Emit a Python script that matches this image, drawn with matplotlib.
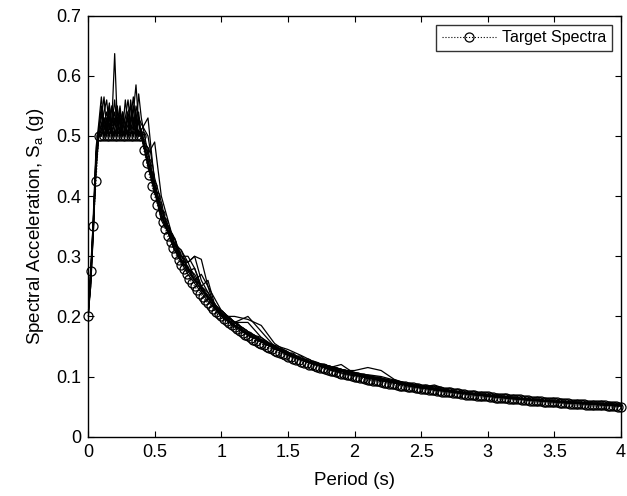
import matplotlib
matplotlib.use("Agg")
import matplotlib.pyplot as plt

plt.rcParams['font.family'] = ['Liberation Sans', 'DejaVu Sans']
plt.rcParams['mathtext.fontset'] = 'custom'
plt.rcParams['mathtext.rm'] = 'Liberation Sans'

# target spectrum (period in s, Sa in g)
periodo = [
    0.00, 0.02, 0.04, 0.06, 0.08, 0.10, 0.12, 0.14, 0.16, 0.18,
    0.20, 0.22, 0.24, 0.26, 0.28, 0.30, 0.32, 0.34, 0.36, 0.38,
    0.40, 0.42, 0.44, 0.46, 0.48, 0.50, 0.52, 0.54, 0.56, 0.58,
    0.60, 0.62, 0.64, 0.66, 0.68, 0.70, 0.72, 0.74, 0.76, 0.78,
    0.80, 0.82, 0.84, 0.86, 0.88, 0.90, 0.92, 0.94, 0.96, 0.98,
    1.00, 1.02, 1.04, 1.06, 1.08, 1.10, 1.12, 1.14, 1.16, 1.18,
    1.20, 1.22, 1.24, 1.26, 1.28, 1.30, 1.32, 1.34, 1.36, 1.38,
    1.40, 1.42, 1.44, 1.46, 1.48, 1.50, 1.52, 1.54, 1.56, 1.58,
    1.60, 1.62, 1.64, 1.66, 1.68, 1.70, 1.72, 1.74, 1.76, 1.78,
    1.80, 1.82, 1.84, 1.86, 1.88, 1.90, 1.92, 1.94, 1.96, 1.98,
    2.00, 2.02, 2.04, 2.06, 2.08, 2.10, 2.12, 2.14, 2.16, 2.18,
    2.20, 2.22, 2.24, 2.26, 2.28, 2.30, 2.32, 2.34, 2.36, 2.38,
    2.40, 2.42, 2.44, 2.46, 2.48, 2.50, 2.52, 2.54, 2.56, 2.58,
    2.60, 2.62, 2.64, 2.66, 2.68, 2.70, 2.72, 2.74, 2.76, 2.78,
    2.80, 2.82, 2.84, 2.86, 2.88, 2.90, 2.92, 2.94, 2.96, 2.98,
    3.00, 3.02, 3.04, 3.06, 3.08, 3.10, 3.12, 3.14, 3.16, 3.18,
    3.20, 3.22, 3.24, 3.26, 3.28, 3.30, 3.32, 3.34, 3.36, 3.38,
    3.40, 3.42, 3.44, 3.46, 3.48, 3.50, 3.52, 3.54, 3.56, 3.58,
    3.60, 3.62, 3.64, 3.66, 3.68, 3.70, 3.72, 3.74, 3.76, 3.78,
    3.80, 3.82, 3.84, 3.86, 3.88, 3.90, 3.92, 3.94, 3.96, 3.98,
    4.00]
sa_target = [
    0.200, 0.275, 0.350, 0.425, 0.500, 0.500, 0.500, 0.500, 0.500, 0.500,
    0.500, 0.500, 0.500, 0.500, 0.500, 0.500, 0.500, 0.500, 0.500, 0.500,
    0.500, 0.476, 0.455, 0.435, 0.417, 0.400, 0.385, 0.370, 0.357, 0.345,
    0.333, 0.323, 0.313, 0.303, 0.294, 0.286, 0.278, 0.270, 0.263, 0.256,
    0.250, 0.244, 0.238, 0.233, 0.227, 0.222, 0.217, 0.213, 0.208, 0.204,
    0.200, 0.196, 0.192, 0.189, 0.185, 0.182, 0.179, 0.175, 0.172, 0.169,
    0.167, 0.164, 0.161, 0.159, 0.156, 0.154, 0.152, 0.149, 0.147, 0.145,
    0.143, 0.141, 0.139, 0.137, 0.135, 0.133, 0.132, 0.130, 0.128, 0.127,
    0.125, 0.123, 0.122, 0.120, 0.119, 0.118, 0.116, 0.115, 0.114, 0.112,
    0.111, 0.110, 0.109, 0.108, 0.106, 0.105, 0.104, 0.103, 0.102, 0.101,
    0.100, 0.099, 0.098, 0.097, 0.096, 0.095, 0.094, 0.093, 0.093, 0.092,
    0.091, 0.090, 0.089, 0.088, 0.088, 0.087, 0.086, 0.085, 0.085, 0.084,
    0.083, 0.083, 0.082, 0.081, 0.081, 0.080, 0.079, 0.079, 0.078, 0.078,
    0.077, 0.076, 0.076, 0.075, 0.075, 0.074, 0.074, 0.073, 0.072, 0.072,
    0.071, 0.071, 0.070, 0.070, 0.069, 0.069, 0.068, 0.068, 0.068, 0.067,
    0.067, 0.066, 0.066, 0.065, 0.065, 0.065, 0.064, 0.064, 0.063, 0.063,
    0.063, 0.062, 0.062, 0.061, 0.061, 0.061, 0.060, 0.060, 0.060, 0.059,
    0.059, 0.058, 0.058, 0.058, 0.057, 0.057, 0.057, 0.056, 0.056, 0.056,
    0.056, 0.055, 0.055, 0.055, 0.054, 0.054, 0.054, 0.053, 0.053, 0.053,
    0.053, 0.052, 0.052, 0.052, 0.052, 0.051, 0.051, 0.051, 0.051, 0.050,
    0.050]

# matched ground motion spectra (common period grid)
periodo_reg = [0.00, 0.02, 0.04, 0.06, 0.08,
               0.10, 0.12, 0.14, 0.16, 0.18, 0.20, 0.22, 0.24, 0.26, 0.28,
               0.30, 0.32, 0.34, 0.36, 0.38, 0.40,
               0.45, 0.50, 0.55, 0.60, 0.65, 0.70, 0.75, 0.80, 0.85, 0.90,
               0.95, 1.00,
               1.1, 1.2, 1.3, 1.4, 1.5, 1.6, 1.7, 1.8, 1.9, 2.0, 2.1, 2.2,
               2.3, 2.4, 2.5, 2.6, 2.7, 2.8, 2.9, 3.0, 3.2, 3.4, 3.6, 3.8, 4.0]
reg1 = [0.20, 0.26, 0.37, 0.48, 0.52,
        0.565, 0.52, 0.54, 0.51, 0.53, 0.637, 0.52, 0.55, 0.51, 0.53, 0.56, 0.52, 0.54, 0.585, 0.52, 0.51,
        0.53, 0.42, 0.38, 0.35, 0.33, 0.30, 0.28, 0.27, 0.25, 0.235, 0.22, 0.205,
        0.185, 0.17, 0.158, 0.146, 0.137, 0.128, 0.12, 0.113, 0.108, 0.102, 0.097, 0.093, 0.089,
        0.085, 0.082, 0.078, 0.075, 0.072, 0.07, 0.068, 0.064, 0.06, 0.057, 0.055, 0.052]
reg2 = [0.21, 0.27, 0.35, 0.46, 0.51,
        0.53, 0.565, 0.51, 0.55, 0.52, 0.54, 0.50, 0.53, 0.51, 0.56, 0.52, 0.55, 0.53, 0.51, 0.57, 0.53,
        0.47, 0.49, 0.40, 0.36, 0.32, 0.31, 0.29, 0.30, 0.26, 0.24, 0.22, 0.21,
        0.19, 0.175, 0.16, 0.15, 0.14, 0.13, 0.122, 0.115, 0.11, 0.106, 0.10, 0.095, 0.09,
        0.086, 0.083, 0.08, 0.076, 0.073, 0.071, 0.069, 0.065, 0.061, 0.058, 0.056, 0.054]
reg3 = [0.20, 0.25, 0.34, 0.47, 0.50,
        0.52, 0.54, 0.56, 0.51, 0.55, 0.52, 0.51, 0.53, 0.50, 0.52, 0.54, 0.55, 0.51, 0.53, 0.52, 0.50,
        0.46, 0.41, 0.375, 0.35, 0.32, 0.30, 0.29, 0.30, 0.295, 0.25, 0.23, 0.21,
        0.19, 0.20, 0.175, 0.15, 0.14, 0.13, 0.122, 0.118, 0.112, 0.107, 0.102, 0.097, 0.092,
        0.087, 0.083, 0.081, 0.077, 0.074, 0.072, 0.07, 0.065, 0.061, 0.058, 0.055, 0.053]
reg4 = [0.22, 0.28, 0.36, 0.45, 0.50,
        0.51, 0.53, 0.50, 0.545, 0.51, 0.52, 0.55, 0.50, 0.53, 0.52, 0.50, 0.53, 0.565, 0.52, 0.50, 0.51,
        0.45, 0.41, 0.37, 0.34, 0.33, 0.29, 0.28, 0.26, 0.27, 0.25, 0.215, 0.20,
        0.20, 0.195, 0.185, 0.155, 0.14, 0.13, 0.12, 0.115, 0.11, 0.11, 0.115, 0.11, 0.095,
        0.088, 0.084, 0.08, 0.076, 0.074, 0.071, 0.069, 0.064, 0.06, 0.057, 0.055, 0.052]
reg5 = [0.20, 0.27, 0.35, 0.44, 0.50,
        0.50, 0.51, 0.53, 0.52, 0.50, 0.51, 0.54, 0.52, 0.50, 0.51, 0.53, 0.50, 0.52, 0.50, 0.51, 0.50,
        0.45, 0.405, 0.37, 0.34, 0.31, 0.29, 0.27, 0.255, 0.24, 0.225, 0.213, 0.202,
        0.184, 0.168, 0.158, 0.148, 0.135, 0.127, 0.121, 0.116, 0.111, 0.104, 0.098, 0.094, 0.09,
        0.085, 0.081, 0.079, 0.075, 0.072, 0.07, 0.068, 0.063, 0.059, 0.057, 0.054, 0.051]
reg6 = [0.19, 0.26, 0.36, 0.47, 0.51,
        0.54, 0.50, 0.52, 0.555, 0.50, 0.53, 0.52, 0.545, 0.50, 0.51, 0.54, 0.51, 0.50, 0.55, 0.53, 0.52,
        0.50, 0.43, 0.39, 0.34, 0.32, 0.31, 0.28, 0.26, 0.245, 0.23, 0.215, 0.205,
        0.19, 0.17, 0.16, 0.152, 0.145, 0.135, 0.124, 0.118, 0.112, 0.106, 0.099, 0.096, 0.092,
        0.087, 0.082, 0.086, 0.078, 0.073, 0.071, 0.068, 0.064, 0.06, 0.058, 0.055, 0.053]
reg7 = [0.21, 0.25, 0.35, 0.46, 0.50,
        0.52, 0.50, 0.51, 0.53, 0.55, 0.50, 0.52, 0.51, 0.54, 0.50, 0.51, 0.52, 0.55, 0.50, 0.54, 0.50,
        0.48, 0.41, 0.36, 0.34, 0.31, 0.295, 0.275, 0.28, 0.25, 0.24, 0.22, 0.20,
        0.183, 0.172, 0.165, 0.147, 0.138, 0.128, 0.121, 0.112, 0.106, 0.101, 0.103, 0.10, 0.094,
        0.088, 0.082, 0.078, 0.076, 0.073, 0.07, 0.067, 0.063, 0.06, 0.056, 0.054, 0.051]
reg8 = [0.20, 0.26, 0.35, 0.47, 0.50,
        0.51, 0.52, 0.50, 0.53, 0.51, 0.50, 0.52, 0.53, 0.51, 0.50, 0.52, 0.51, 0.53, 0.52, 0.50, 0.50,
        0.455, 0.41, 0.37, 0.345, 0.315, 0.295, 0.275, 0.26, 0.245, 0.23, 0.218, 0.206,
        0.19, 0.19, 0.165, 0.15, 0.138, 0.128, 0.12, 0.118, 0.112, 0.106, 0.10, 0.096, 0.091,
        0.087, 0.083, 0.079, 0.076, 0.074, 0.071, 0.068, 0.064, 0.06, 0.057, 0.054, 0.052]
reg9 = [0.21, 0.27, 0.36, 0.46, 0.51,
        0.55, 0.51, 0.53, 0.50, 0.52, 0.56, 0.51, 0.50, 0.54, 0.52, 0.50, 0.56, 0.52, 0.54, 0.50, 0.51,
        0.46, 0.42, 0.38, 0.35, 0.32, 0.29, 0.29, 0.265, 0.25, 0.26, 0.22, 0.205,
        0.186, 0.17, 0.16, 0.146, 0.14, 0.13, 0.121, 0.114, 0.12, 0.105, 0.098, 0.093, 0.089,
        0.086, 0.082, 0.08, 0.076, 0.073, 0.071, 0.069, 0.063, 0.06, 0.056, 0.054, 0.052]
reg10 = [0.20, 0.26, 0.34, 0.45, 0.50,
         0.50, 0.53, 0.51, 0.50, 0.52, 0.51, 0.50, 0.54, 0.52, 0.51, 0.50, 0.52, 0.50, 0.51, 0.53, 0.50,
         0.47, 0.42, 0.365, 0.34, 0.31, 0.30, 0.30, 0.28, 0.25, 0.23, 0.215, 0.203,
         0.185, 0.172, 0.157, 0.147, 0.136, 0.13, 0.122, 0.113, 0.109, 0.104, 0.10, 0.095, 0.09,
         0.085, 0.081, 0.078, 0.077, 0.073, 0.07, 0.068, 0.064, 0.06, 0.057, 0.054, 0.051]
registros = [reg1, reg2, reg3, reg4, reg5, reg6, reg7, reg8, reg9, reg10]

assert len(periodo) == len(sa_target)
for r in registros:
    assert len(r) == len(periodo_reg), len(r)

fig = plt.figure(figsize=(6.27, 4.96), dpi=100)
ax = fig.add_axes([0.1404, 0.1196, 0.8500, 0.8487])

# espectros de los registros
for r in registros:
    ax.plot(periodo_reg, r, color='k', lw=0.9)

# espectro objetivo
ax.plot(periodo, sa_target, ls=':', lw=0.8, color='k', marker='o', ms=6.5,
        mfc='none', mec='k', mew=0.9, clip_on=False, zorder=3, label='Target Spectra')

ax.set_xlim(0, 4)
ax.set_ylim(0, 0.7)
ax.set_xticks([0, 0.5, 1, 1.5, 2, 2.5, 3, 3.5, 4])
ax.set_xticklabels(['0', '0.5', '1', '1.5', '2', '2.5', '3', '3.5', '4'])
ax.set_yticks([0, 0.1, 0.2, 0.3, 0.4, 0.5, 0.6, 0.7])
ax.set_yticklabels(['0', '0.1', '0.2', '0.3', '0.4', '0.5', '0.6', '0.7'])
ax.tick_params(direction='in', top=True, right=True, length=4.5, width=0.8,
               labelsize=13, pad=5)
for s in ax.spines.values():
    s.set_linewidth(1.0)

ax.set_xlabel('Period (s)', fontsize=13.5, labelpad=8)
ax.set_ylabel(r'Spectral Acceleration, S$_\mathregular{a}$ (g)', fontsize=13.5, labelpad=7)

leg = ax.legend(loc='upper right', fontsize=11.5, handlelength=3.4, fancybox=False,
                borderaxespad=0.55, borderpad=0.35, handletextpad=0.4)
leg.get_frame().set_edgecolor('k')
leg.get_frame().set_linewidth(1.0)

fig.savefig('out.png', dpi=100)
